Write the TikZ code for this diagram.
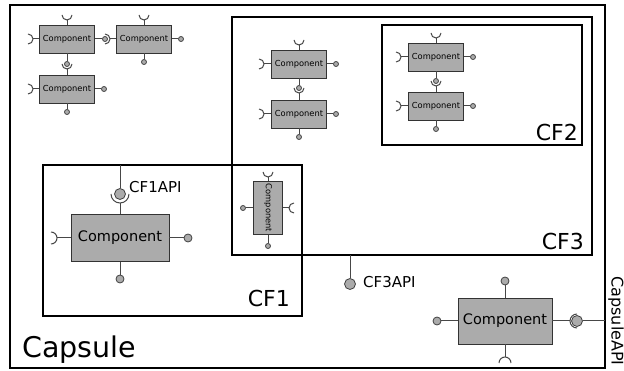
\documentclass[tikz,border=0pt]{standalone}
\usepackage{fontspec}
\setmainfont{DejaVu Sans}
\usepackage{tikz}
\usetikzlibrary{positioning}
\usepackage{xcolor}

\begin{document}
\begin{tikzpicture}[x=1pt,y=-1pt,
  frame/.style={draw=black,line width=1.3pt,inner sep=0pt,outer sep=0pt},
  comp/.style={draw=black!80,fill=black!33,line width=0.8pt,minimum width=55pt,minimum height=28pt,inner sep=0pt,font=\fontsize{8.3}{10}\selectfont},
  bigcomp/.style={comp,minimum width=98pt,minimum height=47pt,font=\fontsize{14.5}{17}\selectfont},
  port/.style={draw=black!72,line width=1pt},
  ball/.style={circle,draw=black!75,fill=black!33,line width=0.8pt,inner sep=0pt,minimum size=5pt},
  midball/.style={ball,minimum size=8pt},
  apiball/.style={ball,minimum size=11pt},
  cflabel/.style={font=\fontsize{22}{26}\selectfont,anchor=base east,inner sep=0pt},
  apilabel/.style={font=\fontsize{15}{18}\selectfont,inner sep=0pt},
  pics/socket/.style={code={\draw[port] (#1,0) ++(90:#1) arc[start angle=90,end angle=270,radius=#1];}}]
\useasboundingbox (0,0) rectangle (624,371);

% frames
\node[frame,minimum width=595pt,minimum height=363pt] (capsule) at (307.5,186.5) {};
\node[frame,minimum width=360pt,minimum height=238pt] (cf3) at (412,136) {};
\node[frame,minimum width=200pt,minimum height=120pt] (cf2) at (482,85) {};
\node[frame,minimum width=259pt,minimum height=151pt] (cf1) at (172.5,240.5) {};
\node[font=\fontsize{28.5}{33}\selectfont,anchor=base west,inner sep=0pt] (capsuletxt) at (22,357) {Capsule};
\node[cflabel] (cf3txt) at (584,250) {CF3};
\node[cflabel] (cf2txt) at (578,141) {CF2};
\node[cflabel] (cf1txt) at (290,307) {CF1};

% components
\node[comp] (comp1) at (67,39) {Component};
\node[comp] (comp2) at (144,39) {Component};
\node[comp] (comp3) at (67,89) {Component};
\node[comp] (comp4) at (299,64) {Component};
\node[comp] (comp5) at (299,114) {Component};
\node[comp] (comp6) at (436,57) {Component};
\node[comp] (comp7) at (436,106) {Component};
\node[comp,minimum width=29pt,minimum height=53pt] (comp8) at (268,208) {\rotatebox{-90}{Component}};
\node[bigcomp] (comp9) at (120,238) {Component};
\node[bigcomp,minimum width=94pt,minimum height=46pt] (comp10) at (505,321) {Component};

% small required ports
\foreach \c/\a/\x/\y/\r in {comp1/north/67/20/90, comp1/west/33/39/180, comp2/north/144/20/90, comp2/west/110/39/180,
  comp3/north/67/69/90, comp3/west/33/89/180, comp4/north/299/45/90, comp4/west/264/64/180,
  comp5/north/299/93/90, comp5/west/264/114/180, comp6/north/436/38/90, comp6/west/401/57/180,
  comp7/north/436/86/90, comp7/west/401/106/180, comp8/north/268/177/90, comp8/east/289/208/0}{
  \coordinate (sock-\c-\a) at (\x,\y);
  \draw[port] (\c.\a) -- (sock-\c-\a);
  \pic[rotate=\r] at (sock-\c-\a) {socket=5};
}
% small provided ports
\foreach \c/\a/\x/\y in {comp1/east/105/39, comp1/south/67/64, comp2/east/181/39, comp2/south/144/62,
  comp3/east/104/89, comp3/south/67/112, comp4/east/336/64, comp4/south/299/88,
  comp5/east/336/114, comp5/south/299/137, comp6/east/473/57, comp6/south/436/81,
  comp7/east/473/106, comp7/south/436/129, comp8/west/243/208, comp8/south/268/246}{
  \node[ball] (ball-\c-\a) at (\x,\y) {};
  \draw[port] (\c.\a) -- (ball-\c-\a);
}

% CF1 component and CF1API
\coordinate (sock9n) at (120,203);
\draw[port] (comp9.north) -- (sock9n);
\pic[rotate=90] at (sock9n) {socket=9};
\node[apiball] (cf1api) at (120,194) {};
\draw[port] (cf1api |- cf1.north) -- (cf1api);
\node[apilabel,anchor=base west] (cf1apitxt) at (129,193) {CF1API};
\coordinate (sock9w) at (57,238);
\draw[port] (comp9.west) -- (sock9w);
\pic[rotate=180] at (sock9w) {socket=6};
\node[midball] (ball9e) at (188,238) {};
\draw[port] (comp9.east) -- (ball9e);
\node[midball] (ball9s) at (120,279) {};
\draw[port] (comp9.south) -- (ball9s);

% CF3API
\node[apiball] (cf3api) at (350,284) {};
\draw[port] (cf3api |- cf3.south) -- (cf3api);
\node[apilabel,anchor=base west] (cf3apitxt) at (363,288) {CF3API};

% capsule component and CapsuleAPI
\node[midball] (ball10n) at (505,281) {};
\draw[port] (comp10.north) -- (ball10n);
\node[midball] (ball10w) at (437,321) {};
\draw[port] (comp10.west) -- (ball10w);
\coordinate (sock10s) at (505,357);
\draw[port] (comp10.south) -- (sock10s);
\pic[rotate=270] at (sock10s) {socket=6};
\coordinate (sock10e) at (570,321);
\draw[port] (comp10.east) -- (sock10e);
\pic[rotate=0] at (sock10e) {socket=7};
\node[apiball] (capsuleapi) at (577,321) {};
\draw[port] (capsuleapi) -- (capsuleapi -| capsule.east);
\node[apilabel,rotate=-90,font=\fontsize{16}{19}\selectfont] (capsuleapitxt) at (616,321) {CapsuleAPI};
\end{tikzpicture}
\end{document}
